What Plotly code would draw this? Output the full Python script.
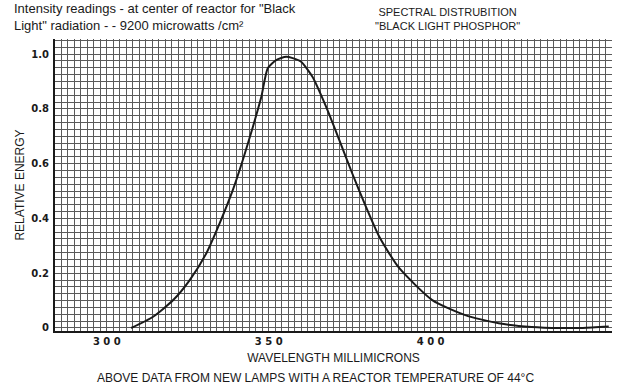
import plotly.graph_objects as go

# Spectral distribution of the black-light phosphor
wavelength_nm = [307.5, 314.3, 320.5, 325.6, 330.7, 334.8, 338.9, 342.0, 345.1,
                 347.7, 349.7, 352.3, 355.4, 357.4, 360.0, 363.5, 367.7, 371.8,
                 375.8, 380.0, 384.1, 390.2, 400.5, 410.7, 421.0, 431.2, 440.0,
                 447.0, 455.0]
relative_energy = [0.0, 0.041, 0.102, 0.175, 0.272, 0.381, 0.503, 0.613, 0.734,
                   0.843, 0.948, 0.978, 0.990, 0.985, 0.972, 0.917, 0.808, 0.686,
                   0.564, 0.443, 0.334, 0.220, 0.102, 0.047, 0.017, 0.004, 0.0,
                   0.0, 0.005]

x_tick_vals = [300, 350, 400]
x_tick_text = ["3 0 0", "3 5 0", "4 0 0"]
y_tick_vals = [0, 0.2, 0.4, 0.6, 0.8, 1.0]
y_tick_text = ["0", "0.2", "0.4", "0.6", "0.8", "1.0"]

header_left = ("Intensity readings - at center of reactor for \"Black<br>"
               "Light\" radiation - - 9200 microwatts /cm²")
header_right = "SPECTRAL DISTRUBITION<br>\"BLACK LIGHT PHOSPHOR\""
x_title = "WAVELENGTH MILLIMICRONS"
y_title = "RELATIVE ENERGY"
footnote = "ABOVE DATA FROM NEW LAMPS WITH A REACTOR TEMPERATURE OF 44°C"

grid_color = "#5a5a5a"
ink = "#1a1a1a"

fig = go.Figure()
fig.add_trace(go.Scatter(
    x=wavelength_nm, y=relative_energy, mode="lines",
    line=dict(color=ink, width=2, shape="spline", smoothing=0.6),
    hoverinfo="skip", showlegend=False,
))

tick_font = dict(family="DejaVu Sans", size=10, color=ink, weight="bold")

fig.update_xaxes(
    range=[284, 456], tickmode="array", tickvals=x_tick_vals, ticktext=x_tick_text,
    tickfont=tick_font, showgrid=True, gridcolor=grid_color, gridwidth=1,
    minor=dict(tickmode="linear", tick0=0, dtick=2, showgrid=True,
               gridcolor=grid_color, gridwidth=1),
    showline=True, linecolor=ink, linewidth=2, zeroline=False, ticks="",
    title=dict(text=x_title, font=dict(family="Liberation Sans", size=12, color=ink),
               standoff=8),
)
fig.update_yaxes(
    range=[-0.011, 1.055], tickmode="array", tickvals=y_tick_vals, ticktext=y_tick_text,
    tickfont=tick_font, showgrid=True, gridcolor=grid_color, gridwidth=1,
    minor=dict(tickmode="linear", tick0=0, dtick=0.025, showgrid=True,
               gridcolor=grid_color, gridwidth=1),
    showline=True, linecolor=ink, linewidth=2, zeroline=False, ticks="",
    ticklabelstandoff=2,
    title=dict(text=y_title, font=dict(family="Liberation Sans", size=12, color=ink),
               standoff=4),
)

fig.add_annotation(
    text=header_left, xref="paper", yref="paper", x=-0.078, y=1.012,
    xanchor="left", yanchor="bottom", align="left", showarrow=False,
    font=dict(family="Liberation Sans", size=13, color=ink),
)
fig.add_annotation(
    text=header_right, xref="paper", yref="paper", x=0.704, y=1.016,
    xanchor="center", yanchor="bottom", align="center", showarrow=False,
    font=dict(family="Liberation Sans", size=11, color=ink),
)
fig.add_annotation(
    text=footnote, xref="paper", yref="paper", x=0.468, y=-0.161,
    xanchor="center", yanchor="middle", showarrow=False,
    font=dict(family="Liberation Sans", size=12, color=ink),
)

fig.update_layout(
    width=621, height=387,
    margin=dict(l=55, r=9, t=39, b=56),
    paper_bgcolor="white", plot_bgcolor="white",
)

fig.write_html("out.html")
